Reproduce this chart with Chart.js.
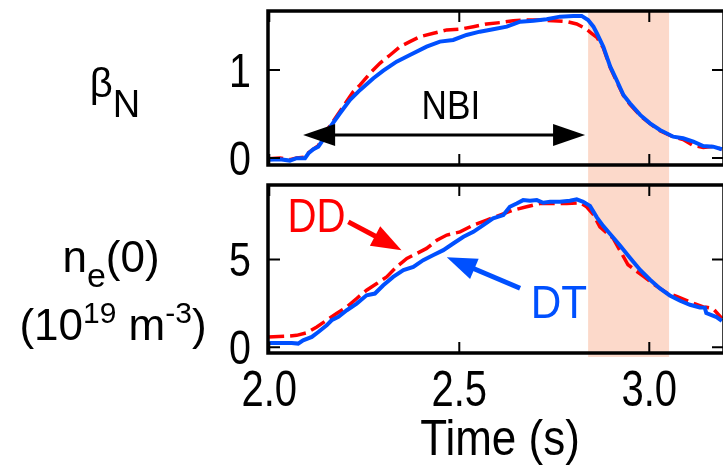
<!DOCTYPE html>
<html>
<head>
<meta charset="utf-8">
<script src="https://cdn.jsdelivr.net/npm/chart.js@4"></script>
<style>
  html, body { margin: 0; padding: 0; background: #fff; }
  #wrap { position: relative; width: 723px; height: 466px; overflow: hidden; background: #fff; }
  #wrap canvas { position: absolute; left: 0; top: 0; }
</style>
</head>
<body>
<div id="wrap">
  <canvas id="betaChart" width="725" height="466" style="width:725px;height:466px"></canvas>
  <canvas id="neChart" width="725" height="466" style="width:725px;height:466px"></canvas>
</div>
<script>
// ---- data ----
// beta_N, DT shot (blue)
const tBetaDT = [1.997, 2.028, 2.054, 2.072, 2.094, 2.103, 2.116, 2.129, 2.138, 2.151, 2.164, 2.186, 2.212, 2.239, 2.274, 2.300, 2.335, 2.370, 2.414, 2.449, 2.484, 2.519, 2.554, 2.589, 2.625, 2.660, 2.695, 2.730, 2.765, 2.800, 2.822, 2.839, 2.853, 2.862, 2.879, 2.897, 2.914, 2.932, 2.949, 2.976, 3.002, 3.028, 3.063, 3.089, 3.116, 3.142, 3.168, 3.191];
const betaDT  = [-0.02, -0.015, -0.03, -0.003, -0.003, 0.053, 0.099, 0.128, 0.185, 0.299, 0.375, 0.508, 0.659, 0.773, 0.906, 0.992, 1.094, 1.170, 1.265, 1.322, 1.341, 1.398, 1.435, 1.463, 1.492, 1.549, 1.560, 1.576, 1.606, 1.614, 1.614, 1.568, 1.492, 1.417, 1.265, 1.04, 0.886, 0.715, 0.622, 0.489, 0.394, 0.318, 0.242, 0.224, 0.185, 0.136, 0.128, 0.099];
// beta_N, DD shot (red dashed)
const tBetaDD = [1.997, 2.028, 2.054, 2.072, 2.094, 2.103, 2.116, 2.129, 2.151, 2.186, 2.221, 2.239, 2.265, 2.291, 2.318, 2.344, 2.370, 2.397, 2.432, 2.467, 2.502, 2.537, 2.572, 2.607, 2.642, 2.677, 2.712, 2.747, 2.783, 2.809, 2.831, 2.848, 2.862, 2.879, 2.897, 2.914, 2.932, 2.949, 2.976, 3.002, 3.028, 3.063, 3.089, 3.116, 3.142, 3.168, 3.191];
const betaDD  = [-0.01, 0.0, -0.02, 0.0, 0.01, 0.06, 0.10, 0.14, 0.31, 0.53, 0.753, 0.830, 0.962, 1.076, 1.170, 1.265, 1.322, 1.379, 1.417, 1.455, 1.463, 1.492, 1.523, 1.538, 1.560, 1.568, 1.568, 1.560, 1.549, 1.523, 1.474, 1.417, 1.37, 1.25, 1.03, 0.87, 0.71, 0.61, 0.48, 0.39, 0.31, 0.24, 0.21, 0.14, 0.12, 0.13, 0.10];
// central density, DT shot (blue)
const tNeDT = [1.997, 2.059, 2.076, 2.089, 2.112, 2.129, 2.151, 2.164, 2.182, 2.204, 2.230, 2.256, 2.278, 2.300, 2.326, 2.353, 2.379, 2.405, 2.432, 2.458, 2.484, 2.511, 2.537, 2.563, 2.589, 2.616, 2.633, 2.651, 2.668, 2.686, 2.704, 2.721, 2.739, 2.765, 2.791, 2.809, 2.826, 2.844, 2.862, 2.879, 2.897, 2.923, 2.949, 2.976, 3.002, 3.028, 3.054, 3.081, 3.107, 3.133, 3.146, 3.150, 3.177, 3.191];
const neDT  = [0.25, 0.25, 0.21, 0.40, 0.59, 0.87, 1.25, 1.54, 1.73, 2.11, 2.49, 2.96, 3.06, 3.53, 4.01, 4.39, 4.58, 4.96, 5.25, 5.53, 5.91, 6.29, 6.57, 6.96, 7.34, 7.53, 8.00, 8.19, 8.38, 8.34, 8.38, 8.23, 8.28, 8.28, 8.34, 8.42, 8.28, 8.05, 7.4, 6.9, 6.45, 5.8, 5.1, 4.4, 3.85, 3.35, 2.95, 2.65, 2.42, 2.27, 2.26, 1.95, 1.72, 1.5];
// central density, DD shot (red dashed)
const tNeDD = [1.997, 2.046, 2.072, 2.098, 2.125, 2.151, 2.177, 2.204, 2.230, 2.256, 2.283, 2.309, 2.335, 2.362, 2.388, 2.414, 2.441, 2.467, 2.502, 2.537, 2.572, 2.607, 2.642, 2.677, 2.712, 2.747, 2.783, 2.818, 2.835, 2.853, 2.870, 2.905, 2.944, 2.984, 3.011, 3.046, 3.072, 3.107, 3.142, 3.150, 3.168, 3.191];
const neDD  = [0.59, 0.63, 0.68, 0.82, 1.16, 1.54, 1.92, 2.30, 2.78, 3.25, 3.63, 4.01, 4.58, 5.06, 5.34, 5.63, 6.10, 6.39, 6.57, 6.96, 7.24, 7.53, 7.81, 8.00, 8.19, 8.19, 8.19, 8.23, 8.00, 7.55, 6.85, 6.2, 4.7, 4.05, 3.6, 3.1, 2.9, 2.58, 2.3, 2.28, 2.2, 1.65];

const heatWindow = [2.839, 3.052];   // shaded interval (s)
const xTicks = [2.0, 2.5, 3.0];
const xTickLabels = ['2.0', '2.5', '3.0'];
const betaTicks = [0, 1];
const neTicks = [0, 5];

const FONT = "'Liberation Sans', Arial, sans-serif";
const BLUE = '#0050ff';
const RED = '#ff0000';

function pts(t, v) {
    return t.map((x, i) => ({ x: x, y: v[i] }));
}

// text squeezed sideways (the figure uses a narrow sans)
function sayText(ctx, text, x, base, size, sx, color) {
    ctx.save();
    ctx.translate(x, base);
    ctx.scale(sx, 1);
    ctx.font = size + 'px ' + FONT;
    ctx.fillStyle = color;
    ctx.textAlign = 'center';
    ctx.textBaseline = 'alphabetic';
    ctx.fillText(text, 0, 0);
    ctx.restore();
}

function arrowHead(ctx, fx, fy, tx, ty, len, half) {
    const a = Math.atan2(ty - fy, tx - fx);
    const bx = tx - len * Math.cos(a), by = ty - len * Math.sin(a);
    ctx.beginPath();
    ctx.moveTo(tx, ty);
    ctx.lineTo(bx + half * Math.sin(a), by - half * Math.cos(a));
    ctx.lineTo(bx - half * Math.sin(a), by + half * Math.cos(a));
    ctx.closePath();
    ctx.fill();
    return [bx + 1 * Math.cos(a), by + 1 * Math.sin(a)];
}

// text pieces: [string, size, dy]
function richText(ctx, parts, cx, base) {
    let w = 0;
    parts.forEach(p => { ctx.font = p[1] + 'px ' + FONT; w += ctx.measureText(p[0]).width; });
    let x = cx - w / 2;
    ctx.textAlign = 'left';
    ctx.textBaseline = 'alphabetic';
    parts.forEach(p => {
        ctx.font = p[1] + 'px ' + FONT;
        ctx.fillText(p[0], x, base + p[2]);
        x += ctx.measureText(p[0]).width;
    });
}

// box, inward ticks, tick labels, shading, arrows and notes
const decor = {
    id: 'decor',
    beforeDatasetsDraw(chart, args, opts) {
        if (!opts.shade) return;
        const ctx = chart.ctx, x = chart.scales.x;
        const x0 = x.getPixelForValue(heatWindow[0]);
        const x1 = x.getPixelForValue(heatWindow[1]);
        const top = chart.chartArea.top;
        const bottom = opts.shadeBottom();
        ctx.save();
        ctx.fillStyle = 'rgba(250,180,150,0.5)';
        ctx.fillRect(x0, top, x1 - x0, bottom - top);
        ctx.restore();
    },
    afterDatasetsDraw(chart, args, opts) {
        if (!opts.yTicks) return;
        const ctx = chart.ctx, a = chart.chartArea;
        const x = chart.scales.x, y = chart.scales.y;
        ctx.save();
        ctx.strokeStyle = '#000';
        ctx.lineWidth = 2;
        ctx.beginPath();
        xTicks.forEach(v => {
            const px = x.getPixelForValue(v);
            ctx.moveTo(px, a.bottom); ctx.lineTo(px, a.bottom - 11);
            ctx.moveTo(px, a.top); ctx.lineTo(px, a.top + 11);
        });
        opts.yTicks.forEach(v => {
            const py = y.getPixelForValue(v);
            ctx.moveTo(a.left, py); ctx.lineTo(a.left + 12, py);
            ctx.moveTo(a.right, py); ctx.lineTo(a.right - 12, py);
        });
        ctx.stroke();
        ctx.lineWidth = 3.5;
        ctx.strokeRect(a.left, a.top, a.right - a.left, a.bottom - a.top);

        // tick labels
        opts.yTicks.forEach(v => {
            sayText(ctx, String(v), a.left - 28, y.getPixelForValue(v) + 17, 48, 0.82, '#000');
        });
        if (opts.xLabels) {
            xTicks.forEach((v, i) => {
                sayText(ctx, xTickLabels[i], x.getPixelForValue(v), 406, 50, 0.8, '#000');
            });
            sayText(ctx, 'Time (s)', (a.left + a.right) / 2 + 4, 455, 50, 0.88, '#000');
        }

        // arrows
        (opts.arrows || []).forEach(ar => {
            const fx = x.getPixelForValue(ar.from[0]), fy = y.getPixelForValue(ar.from[1]);
            const tx = x.getPixelForValue(ar.to[0]), ty = y.getPixelForValue(ar.to[1]);
            ctx.fillStyle = ar.color;
            ctx.strokeStyle = ar.color;
            ctx.lineWidth = ar.width;
            const e = arrowHead(ctx, fx, fy, tx, ty, ar.len, ar.half);
            let s = [fx, fy];
            if (ar.both) s = arrowHead(ctx, tx, ty, fx, fy, ar.len, ar.half);
            ctx.beginPath();
            ctx.moveTo(s[0], s[1]);
            ctx.lineTo(e[0], e[1]);
            ctx.stroke();
        });
        // text notes
        (opts.notes || []).forEach(n => {
            sayText(ctx, n.text, x.getPixelForValue(n.at[0]), y.getPixelForValue(n.at[1]), n.size, n.sx, n.color);
        });

        // side labels
        ctx.fillStyle = '#000';
        (opts.sideLabel || []).forEach(l => richText(ctx, l.parts, l.cx, l.base));
        ctx.restore();
    }
};
Chart.register(decor);

function panelOptions(yMin, yMax, padTop, padBottom, showX, decorOpts) {
    return {
        responsive: false,
        devicePixelRatio: 1,
        animation: false,
        events: [],
        layout: { padding: { left: 0, right: 1, top: padTop, bottom: padBottom } },
        scales: {
            x: {
                type: 'linear',
                min: 1.9966,
                max: 3.1966,
                afterFit: s => { s.height = showX ? 113 : 0; },
                grid: { display: false, drawTicks: false },
                border: { display: false },
                ticks: { display: false }
            },
            y: {
                min: yMin,
                max: yMax,
                afterFit: s => { s.width = 268; },
                grid: { display: false, drawTicks: false },
                border: { display: false },
                ticks: { display: false }
            }
        },
        plugins: {
            legend: { display: false },
            tooltip: { enabled: false },
            decor: decorOpts
        }
    };
}

// ---- lower panel: n_e(0) ----
const neChart = new Chart(document.getElementById('neChart'), {
    type: 'line',
    data: {
        datasets: [
            { label: 'DT', data: pts(tNeDT, neDT), borderColor: BLUE, borderWidth: 4, pointRadius: 0, order: 0 },
            { label: 'DD', data: pts(tNeDD, neDD), borderColor: RED, borderWidth: 3.5, borderDash: [16, 6], pointRadius: 0, order: 1 }
        ]
    },
    options: panelOptions(-0.325, 9.24, 185, 0, true, {
        yTicks: neTicks,
        xLabels: true,
        arrows: [
            { from: [2.208, 7.14], to: [2.348, 5.53], color: RED, width: 5, len: 30, half: 11 },
            { from: [2.660, 3.36], to: [2.467, 5.13], color: BLUE, width: 5, len: 30, half: 11 }
        ],
        notes: [
            { text: 'DD', at: [2.124, 6.56], size: 49, sx: 0.82, color: RED },
            { text: 'DT', at: [2.762, 1.65], size: 47, sx: 0.9, color: BLUE }
        ],
        sideLabel: [
            { cx: 111, base: 272, parts: [['n', 44, 0], ['e', 34, 15], ['(0)', 44, 0]] },
            { cx: 113, base: 340, parts: [['(10', 44, 0], ['19', 30, -17], [' m', 44, 0], ['-3', 30, -17], [')', 44, 0]] }
        ]
    })
});

// ---- upper panel: beta_N ----
const betaChart = new Chart(document.getElementById('betaChart'), {
    type: 'line',
    data: {
        datasets: [
            { label: 'DT', data: pts(tBetaDT, betaDT), borderColor: BLUE, borderWidth: 4, pointRadius: 0, order: 0 },
            { label: 'DD', data: pts(tBetaDD, betaDD), borderColor: RED, borderWidth: 3.5, borderDash: [15, 6], pointRadius: 0, order: 1 }
        ]
    },
    options: panelOptions(-0.08, 1.67, 11, 301, false, {
        yTicks: betaTicks,
        shade: true,
        shadeBottom: () => neChart.chartArea.bottom + 4,
        arrows: [
            { from: [2.089, 0.26], to: [2.831, 0.26], both: true, color: '#000', width: 3, len: 32, half: 11 }
        ],
        notes: [
            { text: 'NBI', at: [2.478, 0.443], size: 40, sx: 0.88, color: '#000' }
        ],
        sideLabel: [
            { cx: 115, base: 97, parts: [['β', 40, 0], ['N', 38, 20]] }
        ]
    })
});
</script>
</body>
</html>
